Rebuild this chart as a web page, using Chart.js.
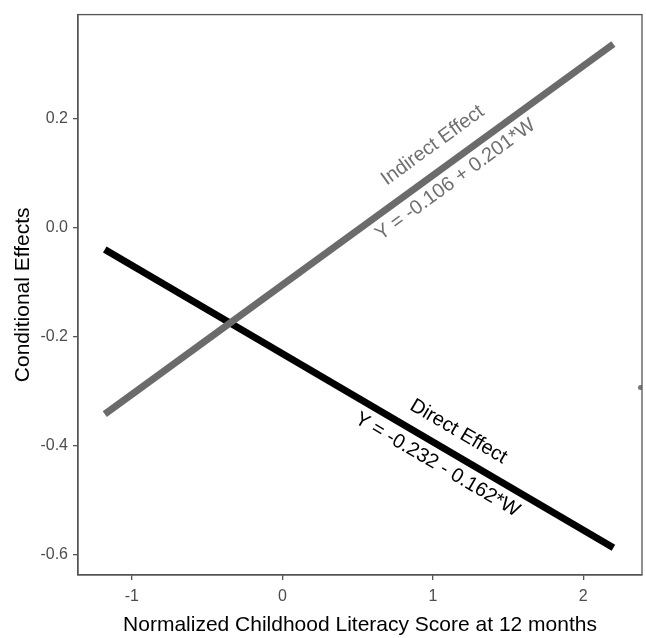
<!DOCTYPE html>
<html>
<head>
<meta charset="utf-8">
<script src="https://cdn.jsdelivr.net/npm/chart.js@4.4.1/dist/chart.umd.min.js"></script>
<style>
  html, body { margin: 0; padding: 0; background: #fff; }
  #wrap { width: 646px; height: 638px; }
</style>
</head>
<body>
<div id="wrap"><canvas id="effects"></canvas></div>
<script>
// moderator range (W) and the two fitted conditional effect lines
let wValues = [-1.18, 2.2]
let indirectValues = [-0.343, 0.336]
let directValues = [-0.041, -0.588]
// stray point at the right edge of the panel
let strayPoint = [{x: 2.38, y: -0.294}]

let xTicks = [-1, 0, 1, 2]
let yTicks = [-0.6, -0.4, -0.2, 0.0, 0.2]

let lineLabels = [
  {dataset: 0, text: 'Indirect Effect', x: 1.0, y: 0.15, color: '#707070'},
  {dataset: 0, text: 'Y = -0.106 + 0.201*W', x: 1.15, y: 0.087, color: '#707070'},
  {dataset: 1, text: 'Direct Effect', x: 1.17, y: -0.375, color: '#000'},
  {dataset: 1, text: 'Y = -0.232 - 0.162*W', x: 1.03, y: -0.436, color: '#000'}
]

const toPoints = (xs, ys) => xs.map((x, i) => ({x: x, y: ys[i]}))

// panel border on all four sides
const boxPlugin = {
  id: 'box',
  afterDraw(chart) {
    const a = chart.chartArea, c = chart.ctx
    c.save()
    c.strokeStyle = '#555'
    c.lineWidth = 1.3
    c.strokeRect(a.left, a.top, a.right - a.left, a.bottom - a.top)
    c.restore()
  }
}

// rotated text along each line
const labelPlugin = {
  id: 'lineLabels',
  afterDatasetsDraw(chart) {
    const c = chart.ctx, xs = chart.scales.x, ys = chart.scales.y
    c.save()
    c.font = '20px "Liberation Sans", Arial, sans-serif'
    c.textAlign = 'center'
    c.textBaseline = 'middle'
    lineLabels.forEach(l => {
      const pts = chart.data.datasets[l.dataset].data
      const ang = Math.atan2(ys.getPixelForValue(pts[1].y) - ys.getPixelForValue(pts[0].y),
                             xs.getPixelForValue(pts[1].x) - xs.getPixelForValue(pts[0].x))
      c.save()
      c.translate(xs.getPixelForValue(l.x), ys.getPixelForValue(l.y))
      c.rotate(ang)
      c.fillStyle = l.color
      c.fillText(l.text, 0, 0)
      c.restore()
    })
    c.restore()
  }
}

let ctx = document.querySelector('#effects').getContext('2d')

let chart = new Chart(ctx, {
  type: 'scatter',
  data: {
    datasets: [{
      data: toPoints(wValues, indirectValues),
      showLine: true,
      borderColor: '#6b6b6b',
      borderWidth: 7,
      pointRadius: 0
    }, {
      data: toPoints(wValues, directValues),
      showLine: true,
      borderColor: '#000',
      borderWidth: 7,
      pointRadius: 0
    }, {
      data: strayPoint,
      backgroundColor: '#777',
      pointRadius: 2.5,
      pointBorderWidth: 0
    }]
  },
  options: {
    responsive: true,
    maintainAspectRatio: false,
    animation: false,
    layout: {padding: {top: 7, right: 3, left: 3, bottom: 0}},
    plugins: {legend: {display: false}, tooltip: {enabled: false}},
    scales: {
      x: {
        type: 'linear',
        min: -1.358, max: 2.39,
        afterBuildTicks: s => { s.ticks = xTicks.map(v => ({value: v})) },
        afterFit: s => { s.height = 63 },
        grid: {drawOnChartArea: false, tickLength: 5, color: '#555', lineWidth: 1.3},
        border: {display: true, color: '#555', width: 1.3},
        ticks: {
          color: '#4d4d4d',
          padding: 7,
          font: {size: 16, family: '"Liberation Sans", Arial, sans-serif'},
          callback: v => String(v)
        },
        title: {
          display: true,
          text: 'Normalized Childhood Literacy Score at 12 months',
          color: '#000',
          padding: {top: 0, bottom: 0},
          font: {size: 21, family: '"Liberation Sans", Arial, sans-serif'}
        }
      },
      y: {
        min: -0.638, max: 0.39,
        afterBuildTicks: s => { s.ticks = yTicks.map(v => ({value: v})) },
        afterFit: s => { s.width = 75 },
        grid: {drawOnChartArea: false, tickLength: 5, color: '#555', lineWidth: 1.3},
        border: {display: true, color: '#555', width: 1.3},
        ticks: {
          color: '#4d4d4d',
          padding: 5,
          font: {size: 16, family: '"Liberation Sans", Arial, sans-serif'},
          callback: v => v.toFixed(1)
        },
        title: {
          display: true,
          text: 'Conditional Effects',
          color: '#000',
          padding: {top: 8, bottom: 0},
          font: {size: 21, family: '"Liberation Sans", Arial, sans-serif'}
        }
      }
    }
  },
  plugins: [boxPlugin, labelPlugin]
})
</script>
</body>
</html>
